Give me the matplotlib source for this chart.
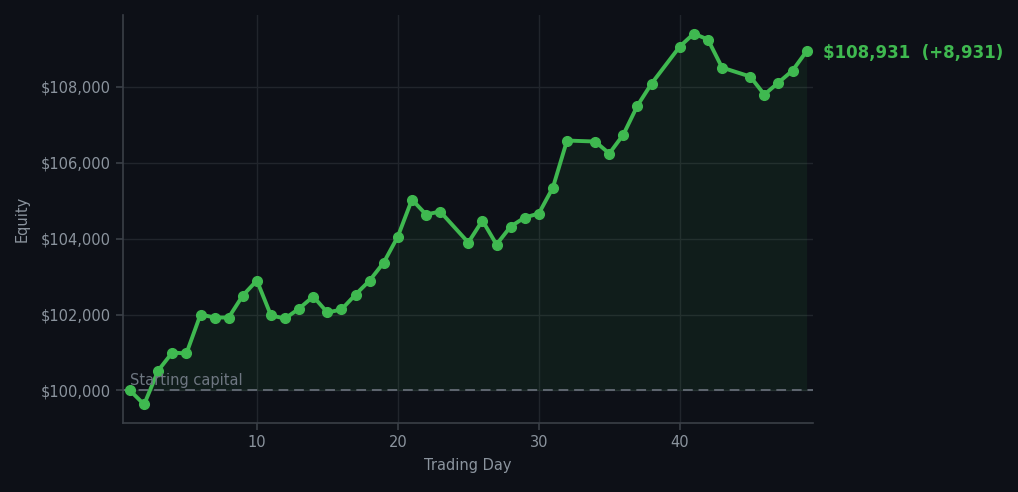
import matplotlib
matplotlib.use("Agg")
import matplotlib.pyplot as plt
from matplotlib.ticker import FuncFormatter

# trading days (some days missing) and equity values
days = [1, 2, 3, 4, 5, 6, 7, 8, 9, 10, 11, 12, 13, 14, 15, 16, 17, 18, 19, 20,
        21, 22, 23, 25, 26, 27, 28, 29, 30, 31, 32, 34, 35, 36, 37, 38, 40, 41,
        42, 43, 45, 46, 47, 48, 49]
equity = [100000, 99632, 100526, 101000, 100974, 102000, 101921, 101921, 102500, 102895,
          101974, 101895, 102158, 102474, 102053, 102132, 102526, 102895, 103368, 104053,
          105026, 104632, 104711, 103895, 104474, 103842, 104316, 104553, 104658, 105342,
          106579, 106553, 106237, 106737, 107500, 108079, 109053, 109395,
          109237, 108500, 108263, 107789, 108105, 108421, 108931]
start_capital = 100000

BG = "#0d1017"
GREEN = "#3fb950"
TEXT = "#8b949e"
GRID = "#21252c"
SPINE = "#3a3f47"

fig = plt.figure(figsize=(10.18, 4.92), dpi=100, facecolor=BG)
ax = fig.add_axes([0.1208, 0.1402, 0.6778, 0.8293], facecolor=BG)

ax.fill_between(days, equity, start_capital, color=GREEN, alpha=0.08, linewidth=0)
ax.plot(days, equity, color=GREEN, linewidth=2.8, marker="o", markersize=7, zorder=3)
ax.axhline(start_capital, color="#5f6670", linestyle="--", linewidth=1.4, dashes=(5, 3))
ax.text(days[0], start_capital + 60, "Starting capital", color="#6e7681", fontsize=10.5,
        ha="left", va="bottom")

final = equity[-1]
ax.annotate(f"${final:,.0f}  (+{final - start_capital:,.0f})", xy=(days[-1], final),
            xytext=(12, -1), textcoords="offset points", color=GREEN, fontsize=12,
            fontweight="bold", va="center", ha="left", annotation_clip=False)

ax.set_xlim(0.5, 49.45)
ax.set_xticks([10, 20, 30, 40])
ax.set_yticks(range(100000, 109000, 2000))
ax.yaxis.set_major_formatter(FuncFormatter(lambda v, p: f"${v:,.0f}"))
ax.grid(True, color=GRID, linewidth=1)
ax.set_axisbelow(True)

for s in ["top", "right"]:
    ax.spines[s].set_visible(False)
for s in ["left", "bottom"]:
    ax.spines[s].set_color(SPINE)
    ax.spines[s].set_linewidth(1.2)
ax.tick_params(colors=TEXT, labelsize=10.5, length=5, width=1.2)
ax.tick_params(axis="both", color=SPINE)
ax.set_xlabel("Trading Day", color=TEXT, fontsize=10.5, labelpad=6)
ax.set_ylabel("Equity", color=TEXT, fontsize=10.5, labelpad=8)

fig.savefig("out.png", dpi=100, facecolor=BG)
